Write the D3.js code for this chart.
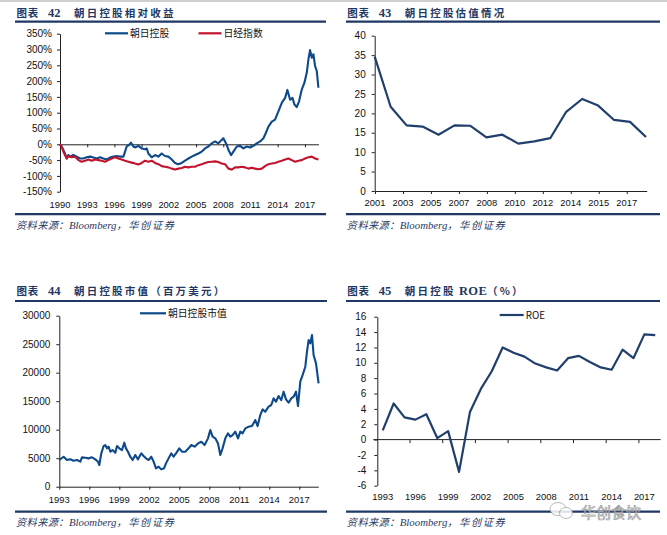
<!DOCTYPE html>
<html><head><meta charset="utf-8">
<script src="https://cdn.jsdelivr.net/npm/d3@7/dist/d3.min.js"></script>
<style>
html,body{margin:0;padding:0;background:#fff;}
svg{display:block;}
</style></head><body>
<svg id="chart" width="667" height="535"></svg>
<script>
// ================= DATA =================
// Panel 42: relative return (%)
const relSeriesNames = ['朝日控股', '日经指数'];
const asahiRelDates = [1990.00,1990.18,1990.37,1990.55,1990.74,1990.92,1991.10,1991.47,1991.84,1992.21,
  1992.57,1992.94,1993.31,1993.68,1994.04,1994.41,1994.78,1995.15,1995.51,1995.88,
  1996.25,1996.62,1996.99,1997.17,1997.35,1997.61,1997.83,1998.09,1998.27,1998.64,
  1999.01,1999.38,1999.56,1999.74,2000.11,2000.48,2000.85,2001.21,2001.58,2001.95,
  2002.32,2002.68,2003.05,2003.42,2003.79,2004.15,2004.52,2004.89,2005.26,2005.63,
  2005.99,2006.36,2006.73,2007.10,2007.46,2007.83,2008.01,2008.20,2008.38,2008.57,
  2008.86,2009.12,2009.49,2009.85,2010.22,2010.59,2010.96,2011.32,2011.69,2012.06,
  2012.43,2012.68,2012.98,2013.35,2013.71,2014.08,2014.45,2014.82,2015.07,2015.37,
  2015.63,2015.85,2016.10,2016.36,2016.65,2016.95,2017.21,2017.39,2017.57,2017.76,
  2017.94,2018.12,2018.31,2018.49];
const asahiRelValues = [0,-7,-18,-29,-45,-34,-39,-34,-39,-45,
  -45,-41,-39,-42,-45,-41,-45,-48,-42,-39,
  -37,-39,-39,-23,-7,-2,5,-7,-10,-5,
  -13,-16,-13,-29,-41,-34,-39,-29,-37,-39,
  -48,-59,-63,-59,-52,-45,-39,-34,-29,-23,
  -13,-7,3,9,3,14,19,9,-2,-18,
  -34,-23,-7,-5,-13,-7,-10,-5,3,9,
  19,35,56,72,78,104,131,147,172,141,
  147,126,118,136,173,195,227,269,298,274,
  285,248,232,179];
const nikkeiRelDates = [1990.00,1990.18,1990.37,1990.55,1990.74,1990.92,1991.29,1991.65,1992.02,1992.39,
  1992.76,1993.13,1993.49,1993.86,1994.23,1994.60,1994.96,1995.33,1995.70,1996.07,
  1996.43,1996.80,1997.17,1997.54,1997.90,1998.27,1998.64,1999.01,1999.38,1999.74,
  2000.11,2000.48,2000.85,2001.21,2001.58,2001.95,2002.32,2002.68,2003.05,2003.42,
  2003.79,2004.15,2004.52,2004.89,2005.26,2005.63,2005.99,2006.36,2006.73,2007.10,
  2007.46,2007.83,2008.20,2008.57,2008.93,2009.30,2009.67,2010.04,2010.40,2010.77,
  2011.14,2011.51,2011.88,2012.24,2012.61,2012.98,2013.35,2013.71,2014.08,2014.45,
  2014.82,2015.18,2015.55,2015.92,2016.29,2016.65,2017.02,2017.39,2017.76,2018.12,
  2018.49];
const nikkeiRelValues = [0,-7,-23,-34,-45,-37,-41,-39,-50,-55,
  -52,-48,-52,-48,-50,-52,-55,-50,-45,-41,
  -45,-48,-52,-55,-58,-61,-64,-59,-52,-55,
  -52,-59,-63,-69,-71,-73,-77,-80,-77,-75,
  -71,-73,-71,-71,-66,-63,-59,-56,-55,-54,
  -56,-61,-63,-77,-80,-73,-73,-71,-73,-77,
  -74,-77,-79,-77,-69,-63,-61,-59,-55,-52,
  -48,-45,-50,-55,-52,-50,-45,-41,-39,-45,
  -48];
const relYTicks = [-150,-100,-50,0,50,100,150,200,250,300,350];
const relXTicks = [1990,1993,1996,1999,2002,2005,2008,2011,2014,2017];

// Panel 43: valuation (PE)
const peValues = [34.6,21.7,16.9,16.6,14.5,16.9,16.8,13.8,14.5,12.2,12.8,13.6,20.4,23.7,22.0,18.3,17.8,13.9];
const peTickLabels = ['2001','2003','2005','2007','2008','2010','2012','2014','2015','2017'];
const peTickPositions = [0,1.75,3.5,5.25,7,8.75,10.5,12.25,14,15.75];
const peYTicks = [0,5,10,15,20,25,30,35,40];

// Panel 44: market cap (USD mn)
const mcapName = '朝日控股市值';
const mcapDates = [1993.00,1993.43,1993.77,1994.10,1994.43,1994.77,1995.10,1995.27,1995.60,1995.93,
  1996.27,1996.60,1996.87,1997.00,1997.20,1997.43,1997.60,1997.77,1997.93,1998.10,
  1998.33,1998.60,1998.77,1999.00,1999.27,1999.50,1999.67,1999.87,2000.10,2000.33,
  2000.60,2000.87,2001.20,2001.43,2001.67,2001.93,2002.20,2002.43,2002.67,2002.93,
  2003.20,2003.47,2003.67,2003.93,2004.20,2004.43,2004.67,2005.00,2005.27,2005.60,
  2005.93,2006.20,2006.53,2006.87,2007.20,2007.53,2007.87,2008.10,2008.33,2008.60,
  2008.87,2009.10,2009.33,2009.60,2009.87,2010.10,2010.33,2010.60,2010.87,2011.10,
  2011.33,2011.60,2011.93,2012.27,2012.60,2012.83,2013.10,2013.33,2013.60,2013.93,
  2014.20,2014.43,2014.67,2014.93,2015.20,2015.43,2015.67,2015.93,2016.20,2016.43,
  2016.67,2016.87,2017.10,2017.33,2017.60,2017.77,2017.93,2018.10,2018.27,2018.43,
  2018.67,2018.93];
const mcapValues = [4680,5260,4680,4800,4560,4680,4390,5150,5090,4970,
  5150,4800,4390,3800,5850,7130,7310,6730,7020,6140,
  6430,5960,7130,6730,6430,7720,6730,6140,5260,4680,
  5560,4800,5850,5380,4970,4680,5260,4390,3220,3510,
  3040,3220,4090,4970,5850,5260,5850,6730,6140,6140,
  6730,7310,7020,7600,7890,7310,8480,9940,8770,8480,
  7600,5560,6730,8480,9360,8770,9060,9650,8480,9650,
  9360,10230,10530,10640,11700,10640,12570,13570,13160,14040,
  14330,15500,14910,15910,15200,16670,15320,14740,15500,15790,
  16670,14150,18420,19590,21050,23680,25730,25150,26610,23100,
  21640,18130];
const mcapXTicks = [1993,1996,1999,2002,2005,2008,2011,2014,2017];
const mcapYTicks = [0,5000,10000,15000,20000,25000,30000];

// Panel 45: ROE (%)
const roeYears = [1993,1994,1995,1996,1997,1998,1999,2000,2001,2002,2003,2004,2005,2006,2007,2008,2009,2010,2011,2012,2013,2014,2015,2016,2017,2018];
const roeValues = [1.2,4.7,2.9,2.6,3.3,0.2,1.1,-4.2,3.6,6.6,8.9,12.0,11.3,10.8,9.9,9.4,9.0,10.6,10.9,10.1,9.4,9.1,11.7,10.6,13.7,13.6];
const roeLabelYears = [1993,1996,1999,2002,2005,2008,2011,2014,2017];
const roeYTicks = [-6,-4,-2,0,2,4,6,8,10,12,14,16];

// ================= STYLE =================
const NAVY = '#1F3864', BLUE = '#0E4A8A', DARK = '#213F6C', RED = '#C3142D', AX = '#222';
const SANS = '"Liberation Sans", Arial, sans-serif';
const CJK = '"Noto Sans CJK SC", sans-serif';
const SERIF = '"Liberation Serif", serif';

const svg = d3.select('#chart');
svg.append('rect').attr('width', 667).attr('height', 535).attr('fill', '#fff');
svg.append('rect').attr('x', 0).attr('y', 0).attr('width', 667).attr('height', 2).attr('fill', '#cfcfcf');

function header(o) {
  const t = svg.append('text').attr('y', o.ty).attr('fill', NAVY).attr('font-weight', 'bold');
  t.append('tspan').attr('x', o.x).attr('font-family', CJK).attr('font-size', 10.5).attr('letter-spacing', 0.8).text('图表');
  t.append('tspan').attr('x', o.x + 31.5).attr('font-family', SERIF).attr('font-size', 12.5).text(o.num);
  const n = t.append('tspan').attr('x', o.x + 57.5);
  o.name.forEach((seg, i) => {
    const s = i === 0 ? n : t.append('tspan');
    s.attr('font-family', seg[1] === 'serif' ? SERIF : CJK)
     .attr('font-size', seg[1] === 'serif' ? 12.5 : 10.5)
     .attr('letter-spacing', seg[1] === 'serif' ? 0.3 : 2.2).text(seg[0]);
  });
  svg.append('line').attr('x1', o.rx0).attr('x2', o.rx1).attr('y1', o.ry).attr('y2', o.ry)
    .attr('stroke', NAVY).attr('stroke-width', 2.2);
  svg.append('line').attr('x1', o.rx0).attr('x2', o.rx1).attr('y1', o.by).attr('y2', o.by)
    .attr('stroke', NAVY).attr('stroke-width', 2.2);
  const s = svg.append('text').attr('x', o.x - 0.5).attr('y', o.by + 14.5).attr('fill', NAVY)
    .attr('font-style', 'italic').attr('font-size', 10.2);
  s.append('tspan').attr('font-family', CJK).attr('letter-spacing', 0.4).text('资料来源：');
  s.append('tspan').attr('font-family', SERIF).attr('font-size', 10.8).text('Bloomberg');
  s.append('tspan').attr('font-family', CJK).attr('letter-spacing', 1.6).text('，华创证券');
}

function yAxis(scale, x, ticks, fmt, pad) {
  const g = svg.append('g').attr('transform', `translate(${x},0)`)
    .call(d3.axisLeft(scale).tickValues(ticks).tickFormat(fmt).tickSize(3).tickSizeOuter(0).tickPadding(pad));
  g.selectAll('path,line').attr('stroke', AX).attr('stroke-width', 1);
  g.selectAll('text').attr('font-family', SANS).attr('font-size', 10).attr('fill', '#111');
  return g;
}
function xLine(scale, y, ticks) {
  const g = svg.append('g').attr('transform', `translate(0,${y})`)
    .call(d3.axisBottom(scale).tickValues(ticks).tickFormat('').tickSize(3).tickSizeOuter(0));
  g.selectAll('path,line').attr('stroke', AX).attr('stroke-width', 1);
  return g;
}
function xLabels(xs, labels, y) {
  svg.append('g').selectAll('text').data(labels).join('text')
    .attr('x', (d, i) => xs[i]).attr('y', y).attr('text-anchor', 'middle')
    .attr('font-family', SANS).attr('font-size', 9.4).attr('fill', '#111').text(d => d);
}
function legend(x, y, color, label, w) {
  svg.append('line').attr('x1', x).attr('x2', x + w).attr('y1', y).attr('y2', y)
    .attr('stroke', color).attr('stroke-width', 2.2);
  svg.append('text').attr('x', x + w + 2).attr('y', y + 3.6).attr('font-family', CJK)
    .attr('font-size', 9.8).attr('fill', '#111').text(label);
}

// ================= PANEL 42 =================
header({x: 16.5, ty: 16.8, num: '42', name: [['朝日控股相对收益', 'cjk']], rx0: 15, rx1: 326, ry: 21.7, by: 214.2});
{
  const x = d3.scaleLinear().domain([1990, 2018.5]).range([60, 318.5]);
  const y = d3.scaleLinear().domain([-150, 350]).range([191.7, 33.7]);
  yAxis(y, 60, relYTicks, d => d + '%', 5);
  xLine(x, y(0), relXTicks);
  xLabels(relXTicks.map(d => x(d)), relXTicks.map(String), 207.5);
  const line = d3.line().x(d => x(d[0])).y(d => y(d[1]));
  svg.append('path').datum(d3.zip(asahiRelDates, asahiRelValues)).attr('d', line)
    .attr('fill', 'none').attr('stroke', BLUE).attr('stroke-width', 2.1).attr('stroke-linejoin', 'round');
  svg.append('path').datum(d3.zip(nikkeiRelDates, nikkeiRelValues)).attr('d', line)
    .attr('fill', 'none').attr('stroke', RED).attr('stroke-width', 2.1).attr('stroke-linejoin', 'round');
  legend(105, 33.3, BLUE, relSeriesNames[0], 23);
  legend(198.5, 33.3, RED, relSeriesNames[1], 23);
}

// ================= PANEL 43 =================
header({x: 347.3, ty: 16.8, num: '43', name: [['朝日控股估值情况', 'cjk']], rx0: 346, rx1: 660, ry: 21.7, by: 214.2});
{
  const x = d3.scaleLinear().domain([0, peValues.length - 1]).range([374.7, 646]);
  const xa = d3.scaleLinear().domain([0, peValues.length - 1]).range([375, 646.7]);
  const y = d3.scaleLinear().domain([0, 40]).range([191, 35.7]);
  yAxis(y, 374.7, peYTicks, d => d, 6);
  xLine(xa, y(0), peTickPositions);
  xLabels(peTickPositions.map(d => xa(d)), peTickLabels, 205.8);
  svg.append('path').datum(peValues)
    .attr('d', d3.line().x((d, i) => x(i)).y(d => y(d)))
    .attr('fill', 'none').attr('stroke', DARK).attr('stroke-width', 2.2).attr('stroke-linejoin', 'round');
}

// ================= PANEL 44 =================
header({x: 16.5, ty: 294.8, num: '44', name: [['朝日控股市值（百万美元）', 'cjk']], rx0: 15, rx1: 327, ry: 301, by: 511.7});
{
  const x = d3.scaleLinear().domain([1993, 2018.9]).range([59.3, 318.3]);
  const y = d3.scaleLinear().domain([0, 30000]).range([486.7, 315.7]);
  yAxis(y, 59.3, mcapYTicks, d => d, 6);
  xLine(x, y(0), mcapXTicks);
  xLabels(mcapXTicks.map(d => x(d)), mcapXTicks.map(String), 502.5);
  svg.append('path').datum(d3.zip(mcapDates, mcapValues))
    .attr('d', d3.line().x(d => x(d[0])).y(d => y(d[1])))
    .attr('fill', 'none').attr('stroke', BLUE).attr('stroke-width', 2.1).attr('stroke-linejoin', 'round');
  legend(140, 313.3, BLUE, mcapName, 26);
}

// ================= PANEL 45 =================
header({x: 347.3, ty: 294.8, num: '45', name: [['朝日控股', 'cjk'], [' ROE', 'serif'], ['（%）', 'cjk']], rx0: 346, rx1: 660, ry: 301, by: 511.7});
{
  const x = d3.scaleBand().domain(roeYears).range([377.3, 660.7]);
  const y = d3.scaleLinear().domain([-6, 16]).range([485.7, 316.7]);
  yAxis(y, 377.3, roeYTicks, d => d, 8);
  const bounds = roeYears.filter((d, i) => i > 0 && i % 3 === 0);
  const g = svg.append('g').attr('transform', `translate(0,${y(0)})`);
  g.append('line').attr('x1', x.range()[0] - 4).attr('x2', x.range()[1]).attr('stroke', AX);
  g.selectAll('line.t').data(bounds).join('line').attr('class', 't')
    .attr('x1', d => x(d)).attr('x2', d => x(d)).attr('y1', 0).attr('y2', 3.5).attr('stroke', AX);
  xLabels(roeLabelYears.map(d => x(d) + x.bandwidth() / 2), roeLabelYears.map(String), 500.3);
  svg.append('path').datum(d3.zip(roeYears, roeValues))
    .attr('d', d3.line().x(d => x(d[0]) + x.bandwidth() / 2).y(d => y(d[1])))
    .attr('fill', 'none').attr('stroke', DARK).attr('stroke-width', 2.2).attr('stroke-linejoin', 'round');
  legend(499.7, 315, DARK, 'ROE', 24);
}

// watermark (kept just below the tick labels so the texts do not collide)
{
  const w = svg.append('g').attr('opacity', 0.85);
  w.append('ellipse').attr('cx', 558).attr('cy', 509).attr('rx', 8).attr('ry', 6.5)
    .attr('fill', '#fff').attr('stroke', '#9a9a9a').attr('stroke-width', 0.8);
  w.append('ellipse').attr('cx', 566).attr('cy', 513).attr('rx', 6.5).attr('ry', 5.5)
    .attr('fill', '#fff').attr('stroke', '#9a9a9a').attr('stroke-width', 0.8);
  w.append('text').attr('x', 581).attr('y', 518).attr('font-family', CJK).attr('font-size', 15)
    .attr('fill', '#fafafa').attr('stroke', '#8a8a8a').attr('stroke-width', 0.7).text('华创食饮');
}
</script>
</body></html>
